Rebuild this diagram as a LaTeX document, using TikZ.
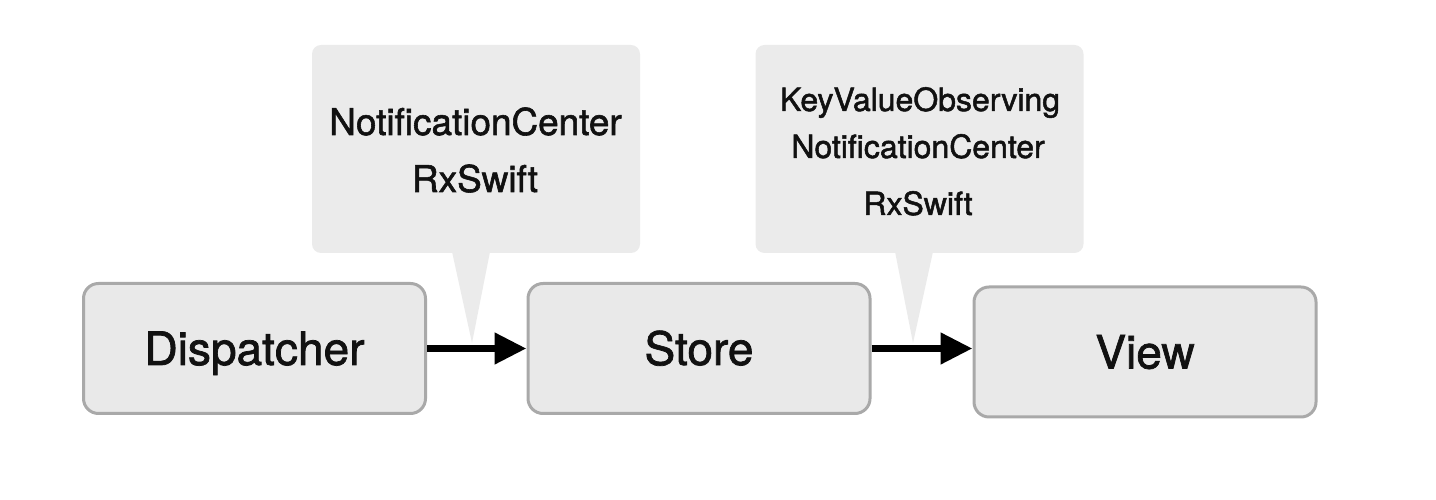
\documentclass[tikz,border=0pt]{standalone}
\usepackage{fontspec}
\setmainfont{TeX Gyre Heros}[FakeBold=1.6]
\usetikzlibrary{arrows.meta}

\definecolor{boitefond}{HTML}{E9E9E9}
\definecolor{boitebord}{HTML}{A9A9A9}
\definecolor{bullefond}{HTML}{EBEBEB}
\definecolor{texte}{HTML}{111111}

\tikzset{
  boite/.style={draw=boitebord, line width=0.03cm, fill=boitefond, rounded corners=0.15cm,
    minimum width=3.42cm, minimum height=1.30cm, text=texte,
    font=\fontsize{13.1}{15}\selectfont, text height=0.33cm, text depth=0pt},
  bulle/.style={fill=bullefond, rounded corners=0.09cm, minimum width=3.28cm, minimum height=2.08cm},
  texteA/.style={anchor=base, inner sep=0pt, text=texte, font=\fontsize{10.5}{12}\selectfont},
  texteB/.style={anchor=base, inner sep=0pt, text=texte, font=\fontsize{9.1}{11}\selectfont},
  fleche/.style={-{Triangle[length=0.32cm,width=0.30cm]}, line width=0.075cm},
}

\begin{document}
\begin{tikzpicture}
    \useasboundingbox (0,0) rectangle (14.36,5);

    % Bulles avec leur pointe
    \node[bulle] (bulleA) at (4.76,3.51) {};
    \node[bulle] (bulleB) at (9.195,3.51) {};
    \coordinate (pointeA) at (4.72,1.57);
    \coordinate (pointeB) at (9.13,1.57);
    \fill[bullefond] ([xshift=-0.24cm,yshift=0.02cm]bulleA.south) -- (pointeA) -- ([xshift=0.14cm,yshift=0.02cm]bulleA.south) -- cycle;
    \fill[bullefond] ([xshift=-0.245cm,yshift=0.02cm]bulleB.south) -- (pointeB) -- ([xshift=0.135cm,yshift=0.02cm]bulleB.south) -- cycle;

    % Textes des bulles
    \node[texteA] (ncA) at (4.755,3.65) {NotificationCenter};
    \node[texteA] (rxA) at (4.75,3.08) {RxSwift};
    \node[texteB] (kvoB) at (9.20,3.89) {KeyValueObserving};
    \node[texteB] (ncB) at (9.18,3.42) {NotificationCenter};
    \node[texteB] (rxB) at (9.18,2.85) {RxSwift};

    % Boites
    \node[boite] (dispatcher) at (2.545,1.515) {Dispatcher};
    \node[boite] (store) at (6.99,1.515) {Store};
    \node[boite] (view) at (11.45,1.48) {View};

    % Fleches
    \draw[fleche] (dispatcher) -- (store);
    \draw[fleche] (store) -- (store -| view.west);
\end{tikzpicture}
\end{document}
